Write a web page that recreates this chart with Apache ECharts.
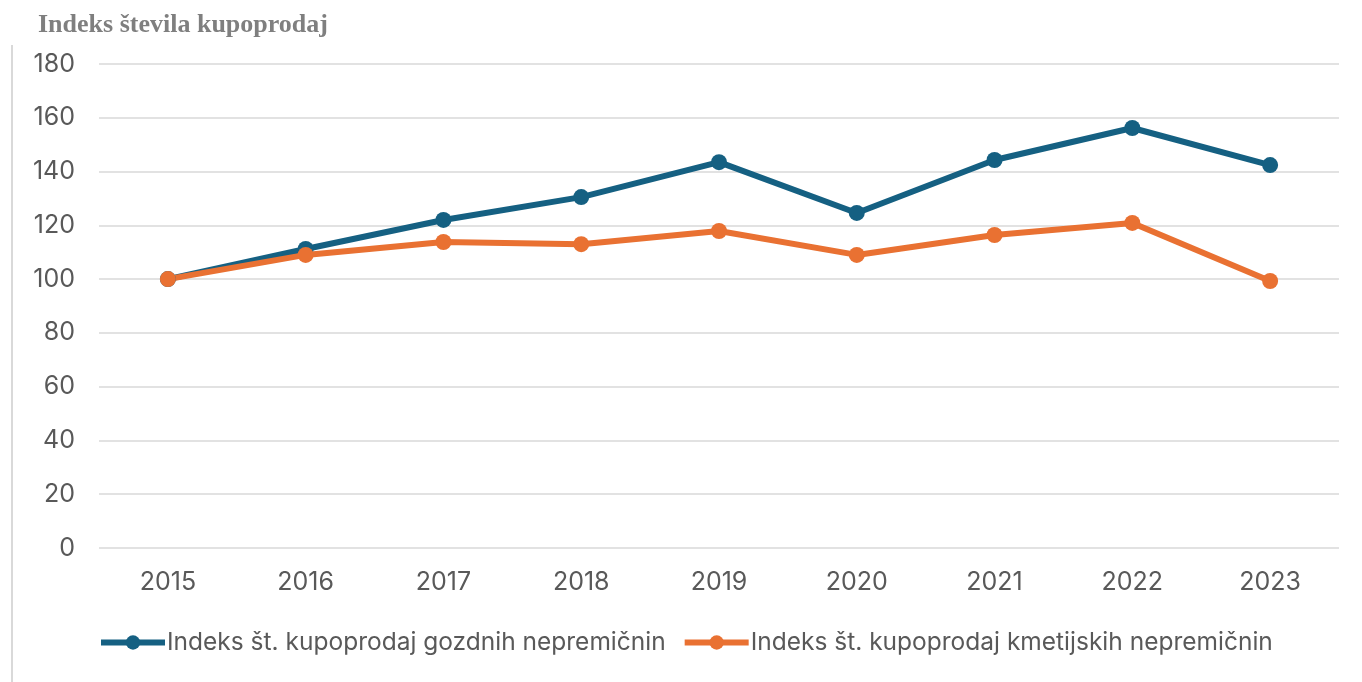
<!DOCTYPE html>
<html><head><meta charset="utf-8">
<script src="https://cdn.jsdelivr.net/npm/echarts@6/dist/echarts.min.js"></script>
<style>html,body{margin:0;padding:0;background:#fff}#c{width:1362px;height:682px}</style>
</head><body><div id="c"></div>
<script>
const categories = ['2015','2016','2017','2018','2019','2020','2021','2022','2023'];
const forestIndex = [100, 111.2, 122, 130.5, 143.5, 124.6, 144.3, 156.2, 142.4];
const farmIndex = [100, 109, 113.8, 113, 117.9, 109, 116.4, 120.9, 99.3];
const seriesNames = ['Indeks št. kupoprodaj gozdnih nepremičnin','Indeks št. kupoprodaj kmetijskih nepremičnin'];
const titleText = 'Indeks števila kupoprodaj';

const chart = echarts.init(document.getElementById('c'));
const font = 'Inter, "Noto Sans", sans-serif';
const blue = '#156082', orange = '#E97132';
chart.setOption({
  animation:false,
  title:{text:titleText,left:33,top:7,textStyle:{fontFamily:'"Liberation Serif", serif',fontWeight:'bold',fontSize:26,color:'#7f7f7f'}},
  graphic:[{type:'line',shape:{x1:12,y1:45,x2:12,y2:682},style:{stroke:'#d9d9d9',lineWidth:2}}],
  grid:{left:99,right:23,top:64,bottom:134},
  legend:{bottom:22,left:93,itemWidth:64,itemHeight:18,itemGap:16,
    textStyle:{fontFamily:font,fontSize:24.5,color:'#595959',padding:[0,0,0,-3]},
    data:[
      {name:seriesNames[0],itemStyle:{color:blue},lineStyle:{width:6,color:blue}},
      {name:seriesNames[1],itemStyle:{color:orange},lineStyle:{width:6,color:orange}}
    ]},
  xAxis:{type:'category',data:categories,boundaryGap:true,
    axisLine:{show:false},axisTick:{show:false},
    axisLabel:{fontFamily:font,fontSize:25,color:'#595959',margin:22}},
  yAxis:{type:'value',min:0,max:180,interval:20,
    axisLine:{show:false},axisTick:{show:false},
    axisLabel:{fontFamily:font,fontSize:25,color:'#595959',margin:24},
    splitLine:{lineStyle:{color:'#d9d9d9',width:1.5}}},
  series:[
    {name:seriesNames[0],type:'line',data:forestIndex,symbol:'circle',symbolSize:16,
      lineStyle:{width:6,color:blue},itemStyle:{color:blue}},
    {name:seriesNames[1],type:'line',data:farmIndex,symbol:'circle',symbolSize:16,
      lineStyle:{width:6,color:orange},itemStyle:{color:orange}}
  ]
});
</script></body></html>
